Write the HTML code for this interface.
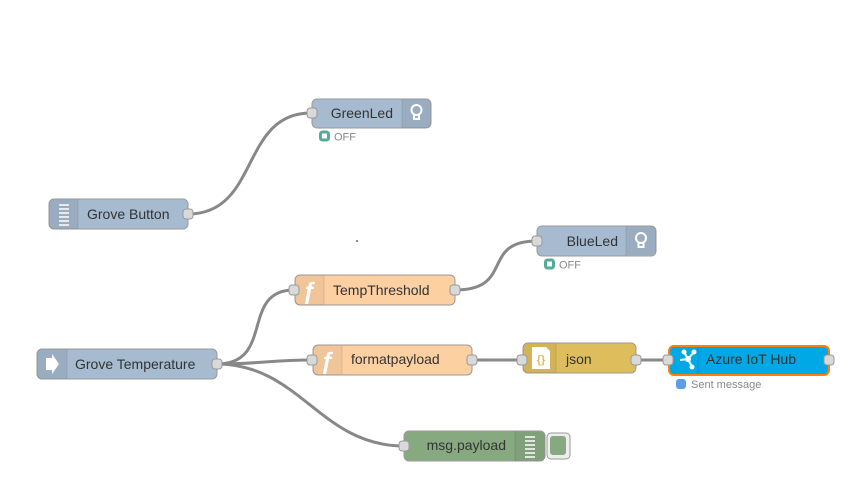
<!DOCTYPE html>
<html><head><meta charset="utf-8"><style>
html,body{margin:0;padding:0;background:#fff;}
svg{display:block;}
text{font-family:"Liberation Sans",Arial,sans-serif;}
</style></head><body>
<svg width="851" height="480" viewBox="0 0 851 480" xmlns="http://www.w3.org/2000/svg">
<g fill="none" stroke="#888" stroke-width="3">
<path d="M188 214 C260 214 240 113 311 113"/>
<path d="M217 364 C275 364 240 290 294 290"/>
<path d="M217 364 C260 364 270 360 312 360"/>
<path d="M217 364 C300 364 320 446 404 446"/>
<path d="M455 290 C515 290 480 241 537 241"/>
<path d="M472 360 L522 360"/>
<path d="M636 360 L668 360"/>
</g>
<circle cx="357" cy="241" r="0.8" fill="#000"/>

<!-- GreenLed -->
<rect x="312" y="99" width="119" height="29" rx="5" fill="#a6bbcf" stroke="#999"/>
<path d="M402 99.5 H426 a5 5 0 0 1 5 5 V123 a5 5 0 0 1 -5 5 H402Z" fill="#000" fill-opacity="0.07"/>
<line x1="402" y1="99.5" x2="402" y2="127.5" stroke="#000" stroke-opacity="0.1"/>
<g stroke="#fff" stroke-width="2" fill="none"><circle cx="416.5" cy="110" r="5"/><path d="M414 115 v4 h5 v-4"/></g>
<text x="393" y="118" font-size="14" fill="#333" text-anchor="end">GreenLed</text>
<rect x="307" y="108" width="10" height="10" rx="3" fill="#d9d9d9" stroke="#999"/>
<rect x="320.5" y="132" width="8" height="8" rx="2" fill="none" stroke="#5a9" stroke-width="3"/>
<text x="334" y="140.5" font-size="11" fill="#888">OFF</text>

<!-- Grove Button -->
<rect x="49" y="199" width="139" height="30" rx="5" fill="#a6bbcf" stroke="#999"/>
<path d="M78 199.5 H54 a5 5 0 0 0 -5 5 V224 a5 5 0 0 0 5 5 H78Z" fill="#000" fill-opacity="0.07"/>
<line x1="78" y1="199.5" x2="78" y2="228.5" stroke="#000" stroke-opacity="0.1"/>
<g stroke="#fff" stroke-width="1.5"><line x1="59" y1="205" x2="69" y2="205"/><line x1="59" y1="209" x2="69" y2="209"/><line x1="59" y1="213" x2="69" y2="213"/><line x1="59" y1="217" x2="69" y2="217"/><line x1="59" y1="221" x2="69" y2="221"/><line x1="59" y1="225" x2="69" y2="225"/></g>
<text x="87" y="219" font-size="14" fill="#333">Grove Button</text>
<rect x="183" y="209" width="10" height="10" rx="3" fill="#d9d9d9" stroke="#999"/>

<!-- BlueLed -->
<rect x="537" y="226" width="119" height="30" rx="5" fill="#a6bbcf" stroke="#999"/>
<path d="M626 226.5 H651 a5 5 0 0 1 5 5 V250 a5 5 0 0 1 -5 5 H626Z" fill="#000" fill-opacity="0.07"/>
<line x1="626" y1="226.5" x2="626" y2="255.5" stroke="#000" stroke-opacity="0.1"/>
<g stroke="#fff" stroke-width="2" fill="none"><circle cx="641" cy="238" r="5"/><path d="M638.5 243 v4 h5 v-4"/></g>
<text x="618" y="246" font-size="14" fill="#333" text-anchor="end">BlueLed</text>
<rect x="532" y="236" width="10" height="10" rx="3" fill="#d9d9d9" stroke="#999"/>
<rect x="545.5" y="260" width="8" height="8" rx="2" fill="none" stroke="#5a9" stroke-width="3"/>
<text x="559" y="268.5" font-size="11" fill="#888">OFF</text>

<!-- TempThreshold -->
<rect x="295" y="275" width="160" height="30" rx="5" fill="#fdd0a2" stroke="#999"/>
<path d="M324 275.5 H300 a5 5 0 0 0 -5 5 V300 a5 5 0 0 0 5 5 H324Z" fill="#000" fill-opacity="0.05"/>
<line x1="324" y1="275.5" x2="324" y2="304.5" stroke="#000" stroke-opacity="0.1"/>
<text x="309.5" y="299" font-size="24" fill="#fff" font-weight="bold" text-anchor="middle" font-family="Liberation Serif,serif">ƒ</text>
<text x="333" y="295" font-size="14" fill="#333">TempThreshold</text>
<rect x="289" y="285" width="10" height="10" rx="3" fill="#d9d9d9" stroke="#999"/>
<rect x="450" y="285" width="10" height="10" rx="3" fill="#d9d9d9" stroke="#999"/>

<!-- Grove Temperature -->
<rect x="37" y="349" width="180" height="30" rx="5" fill="#a6bbcf" stroke="#999"/>
<path d="M67 349.5 H42 a5 5 0 0 0 -5 5 V374 a5 5 0 0 0 5 5 H67Z" fill="#000" fill-opacity="0.07"/>
<line x1="67" y1="349.5" x2="67" y2="378.5" stroke="#000" stroke-opacity="0.1"/>
<path d="M46 358 h6 v-4 l7 10 l-7 10 v-4 h-6z" fill="#fff"/>
<text x="75" y="369" font-size="14" fill="#333">Grove Temperature</text>
<rect x="212" y="359" width="10" height="10" rx="3" fill="#d9d9d9" stroke="#999"/>

<!-- formatpayload -->
<rect x="313" y="345" width="159" height="30" rx="5" fill="#fdd0a2" stroke="#999"/>
<path d="M342 345.5 H318 a5 5 0 0 0 -5 5 V370 a5 5 0 0 0 5 5 H342Z" fill="#000" fill-opacity="0.05"/>
<line x1="342" y1="345.5" x2="342" y2="374.5" stroke="#000" stroke-opacity="0.1"/>
<text x="327.5" y="369" font-size="24" fill="#fff" font-weight="bold" text-anchor="middle" font-family="Liberation Serif,serif">ƒ</text>
<text x="351" y="364" font-size="14" fill="#333">formatpayload</text>
<rect x="307" y="355" width="10" height="10" rx="3" fill="#d9d9d9" stroke="#999"/>
<rect x="467" y="355" width="10" height="10" rx="3" fill="#d9d9d9" stroke="#999"/>

<!-- json -->
<rect x="523" y="343" width="113" height="30" rx="5" fill="#debd5c" stroke="#999"/>
<path d="M556 343.5 H528 a5 5 0 0 0 -5 5 V368 a5 5 0 0 0 5 5 H556Z" fill="#000" fill-opacity="0.05"/>
<line x1="556" y1="343.5" x2="556" y2="372.5" stroke="#000" stroke-opacity="0.1"/>
<path d="M532 347 h14 l4 4 v18 h-18z" fill="#fff"/>
<text x="541" y="363" font-size="11" fill="#debd5c" text-anchor="middle" font-weight="bold">{}</text>
<text x="566" y="364" font-size="14" fill="#333">json</text>
<rect x="517" y="355" width="10" height="10" rx="3" fill="#d9d9d9" stroke="#999"/>
<rect x="631" y="355" width="10" height="10" rx="3" fill="#d9d9d9" stroke="#999"/>

<!-- Azure IoT Hub -->
<rect x="669" y="346" width="160" height="29" rx="5" fill="#00a8e6" stroke="#ff7f0e" stroke-width="2"/>
<line x1="698" y1="347" x2="698" y2="374" stroke="#000" stroke-opacity="0.1"/>
<g stroke="#fff" stroke-width="2" fill="#fff"><line x1="680" y1="360" x2="688" y2="359"/><line x1="688" y1="359" x2="684" y2="352"/><line x1="688" y1="359" x2="694" y2="352"/><line x1="688" y1="359" x2="692" y2="367"/><circle cx="688" cy="359" r="2"/><circle cx="684" cy="352" r="1.5"/><circle cx="694" cy="352" r="1.5"/><circle cx="692" cy="367" r="1.5"/></g>
<text x="706" y="364" font-size="14" fill="#333">Azure IoT Hub</text>
<rect x="663" y="355" width="10" height="10" rx="3" fill="#d9d9d9" stroke="#999"/>
<rect x="824" y="355" width="10" height="10" rx="3" fill="#d9d9d9" stroke="#999"/>
<rect x="676" y="379" width="10" height="10" rx="3" fill="#5a9ee8"/>
<text x="691" y="388" font-size="11" fill="#888">Sent message</text>

<!-- msg.payload -->
<rect x="547" y="433" width="23" height="26" rx="4" fill="#eee" stroke="#999"/>
<rect x="550" y="436" width="16" height="19" rx="3" fill="#87a980"/>
<rect x="404" y="431" width="141" height="30" rx="5" fill="#87a980" stroke="#999"/>
<path d="M515 431.5 H540 a5 5 0 0 1 5 5 V456 a5 5 0 0 1 -5 5 H515Z" fill="#000" fill-opacity="0.05"/>
<line x1="515" y1="431.5" x2="515" y2="460.5" stroke="#000" stroke-opacity="0.1"/>
<g stroke="#fff" stroke-width="1.5"><line x1="525" y1="437" x2="535" y2="437"/><line x1="525" y1="441" x2="535" y2="441"/><line x1="525" y1="445" x2="535" y2="445"/><line x1="525" y1="449" x2="535" y2="449"/><line x1="525" y1="453" x2="535" y2="453"/><line x1="525" y1="457" x2="535" y2="457"/></g>
<text x="506" y="450" font-size="14" fill="#333" text-anchor="end">msg.payload</text>
<rect x="399" y="441" width="10" height="10" rx="3" fill="#d9d9d9" stroke="#999"/>
</svg>
</body></html>
